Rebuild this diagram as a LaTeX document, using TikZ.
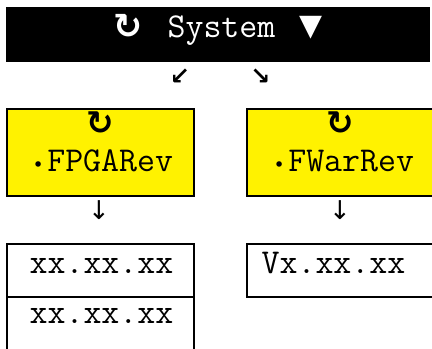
\documentclass[tikz,border=0pt]{standalone}
\usepackage{fontspec}
\newfontfamily\symf{DejaVu Sans}
\newfontfamily\symb{DejaVu Sans Bold}
\newcommand\menudot{\makebox[0.525em][c]{\symf\fontsize{19}{19}\selectfont\raisebox{-0.5bp}{•}}}
\begin{document}
\begin{tikzpicture}[x=1bp,y=-1bp,
  frame/.style={draw=black,line width=1.6bp,inner sep=0pt,minimum width=187bp},
  mono/.style={font=\ttfamily\fontsize{35}{40}\selectfont,inner sep=0pt,anchor=base},
  sym/.style={font=\symf\fontsize{#1}{#1}\selectfont,inner sep=0pt},
  symb/.style={font=\symb\fontsize{#1}{#1}\selectfont,inner sep=0pt},
]
\useasboundingbox (0,0) rectangle (432,349);
% title bar
\node[fill=black,inner sep=0pt,minimum width=424bp,minimum height=55bp] (bar) at (218,34.5) {};
\node[symb=35,text=white] (rot) at (128,26.5) {↻};
\node[mono,text=white] (sys) at (221.5,37) {System};
\node[sym=30,text=white] (tri) at (310.5,27.5) {▼};
% diagonal arrows
\node[symb=24] (dl) at (180,77) {↙};
\node[symb=24] (dr) at (260.5,77) {↘};
% yellow boxes
\node[frame,fill=yellow,minimum height=87bp] (fpga) at (100.5,152.5) {};
\node[frame,fill=yellow,minimum height=87bp] (fw) at (340.5,152.5) {};
\node[symb=33] (rotA) at (100,123.5) {↻};
\node[symb=33] (rotB) at (340.5,123.5) {↻};
\node[mono] (tA) at (101,171) {\menudot FPGARev};
\node[mono] (tB) at (342,171) {\menudot FWarRev};
% down arrows
\node[sym=26] (dA) at (99,210) {↓};
\node[sym=26] (dB) at (340,210) {↓};
% value boxes
\node[frame,minimum height=53bp] (v1) at (100.5,270.5) {};
\node[frame,minimum height=60bp] (v2) at (100.5,327) {};
\node[frame,minimum height=53bp] (v3) at (340.5,270.5) {};
\node[mono] (x1) at (101.5,273) {xx.xx.xx};
\node[mono] (x2) at (101.5,323) {xx.xx.xx};
\node[mono] (x3) at (333.5,273) {Vx.xx.xx};
\end{tikzpicture}
\end{document}
